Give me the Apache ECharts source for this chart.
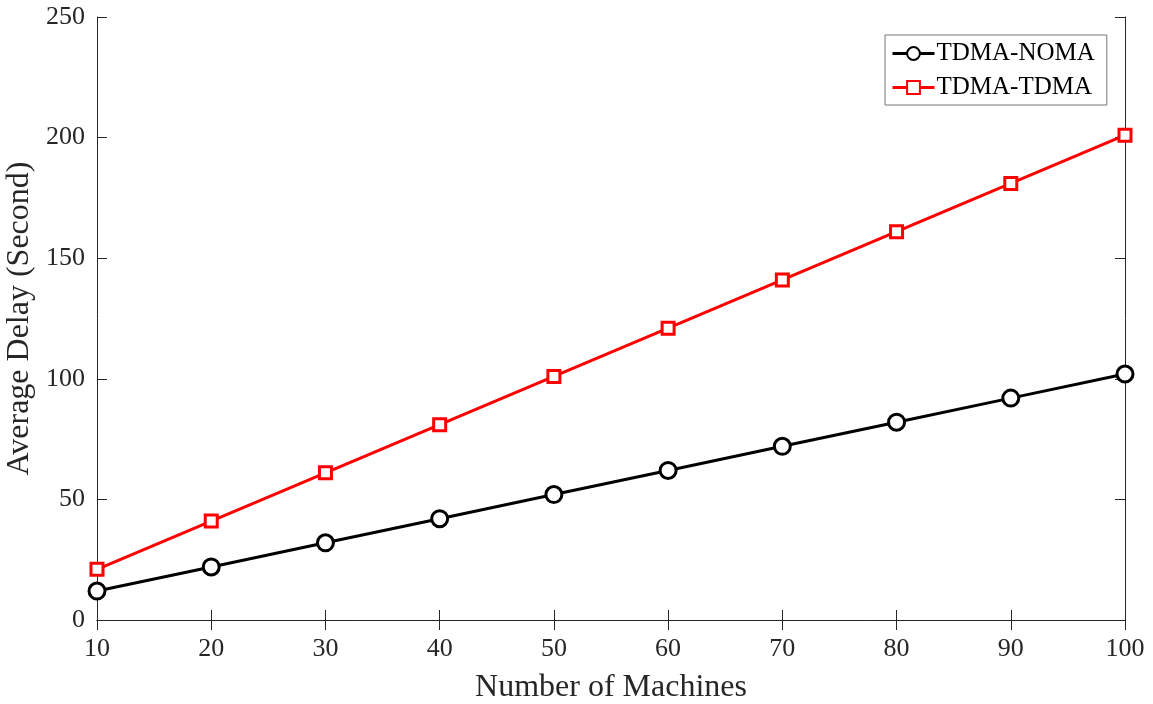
<!DOCTYPE html>
<html><head><meta charset="utf-8">
<script src="https://cdn.jsdelivr.net/npm/echarts@6/dist/echarts.min.js"></script>
<style>html,body{margin:0;padding:0;background:#fff}#c{width:1153px;height:704px}</style>
</head><body><div id="c"></div>
<script>
const machines = [10, 20, 30, 40, 50, 60, 70, 80, 90, 100];
const tdmaNoma = [12, 22, 32, 42, 52, 62, 72, 82, 92, 102];
const tdmaTdma = [21, 41, 61, 81, 101, 121, 141, 161, 181, 201];
const seriesNames = ['TDMA-NOMA', 'TDMA-TDMA'];
const xTitle = 'Number of Machines';
const yTitle = 'Average Delay (Second)';

const font = 'Liberation Serif, Times New Roman, serif';
const txt = '#262626';
const chart = echarts.init(document.getElementById('c'), null, {renderer: 'canvas'});
const axisCommon = {
  axisLine: {show: true, lineStyle: {color: txt, width: 1}},
  axisTick: {show: true, inside: true, length: 10, lineStyle: {color: txt, width: 1}},
  splitLine: {show: false}
};
chart.setOption({
  animation: false,
  backgroundColor: '#fff',
  grid: {left: 97, right: 28, top: 17, bottom: 84, containLabel: false, outerBoundsMode: 'none'},
  legend: {
    orient: 'vertical', left: 885, top: 35, width: 222,
    backgroundColor: '#fff', borderColor: '#777', borderWidth: 1,
    padding: [6, 12, 5, 6], itemGap: 9, itemWidth: 42, itemHeight: 16,
    lineStyle: {width: 3},
    textStyle: {fontFamily: font, fontSize: 25, color: '#000', padding: [0, 0, 0, -3]},
    data: seriesNames
  },
  xAxis: [
    Object.assign({type: 'value', min: 10, max: 100, interval: 10, position: 'bottom',
      name: xTitle, nameLocation: 'middle', nameGap: 52,
      nameTextStyle: {fontFamily: font, fontSize: 32, color: txt},
      axisLabel: {fontFamily: font, fontSize: 26, color: txt, margin: 16}}, axisCommon),
    Object.assign({type: 'value', min: 10, max: 100, interval: 10, position: 'top',
      axisLabel: {show: false}}, axisCommon)
  ],
  yAxis: [
    Object.assign({type: 'value', min: 0, max: 250, interval: 50, position: 'left',
      name: yTitle, nameLocation: 'middle', nameGap: 49,
      nameTextStyle: {fontFamily: font, fontSize: 32, color: txt},
      axisLabel: {fontFamily: font, fontSize: 26, color: txt, margin: 12}}, axisCommon),
    Object.assign({type: 'value', min: 0, max: 250, interval: 50, position: 'right',
      axisLabel: {show: false}}, axisCommon)
  ],
  series: [
    {name: seriesNames[0], type: 'line', data: machines.map((x, i) => [x, tdmaNoma[i]]),
      symbol: 'circle', symbolSize: 16, showAllSymbol: true,
      lineStyle: {color: '#000', width: 3},
      itemStyle: {color: '#fff', borderColor: '#000', borderWidth: 3}},
    {name: seriesNames[1], type: 'line', data: machines.map((x, i) => [x, tdmaTdma[i]]),
      symbol: 'rect', symbolSize: 12, showAllSymbol: true,
      lineStyle: {color: '#ff0000', width: 3},
      itemStyle: {color: '#fff', borderColor: '#ff0000', borderWidth: 3}}
  ]
});
</script></body></html>
